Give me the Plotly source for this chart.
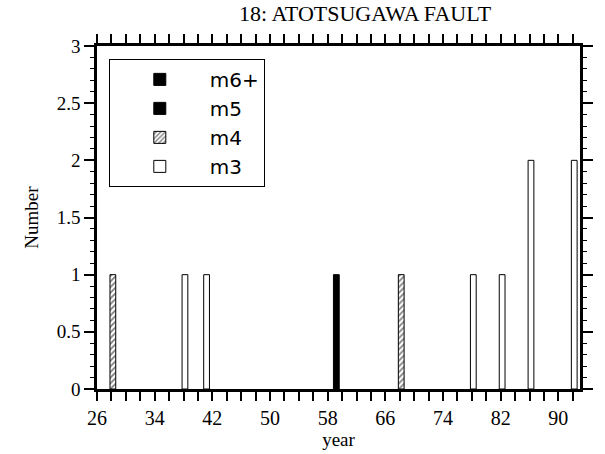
import plotly.graph_objects as go

# Data (year of 19xx, number of events)
years_m3 = [38, 41, 78, 82, 86, 92]
count_m3 = [1, 1, 1, 1, 2, 2]
years_m4 = [28, 68]
count_m4 = [1, 1]
years_m5 = [59]
count_m5 = [1]
years_m6 = [None]
count_m6 = [None]

x_ticks = [26, 34, 42, 50, 58, 66, 74, 82, 90]
y_ticks = [0, 0.5, 1, 1.5, 2, 2.5, 3]
y_tick_text = ["0", "0.5", "1", "1.5", "2", "2.5", "3"]

BAR_W = 0.8
BAR_OFF = -0.2

fig = go.Figure()
fig.add_trace(go.Bar(name="m6+", x=years_m6, y=count_m6, width=BAR_W, offset=BAR_OFF,
                     showlegend=True,
                     marker=dict(color="black", line=dict(color="black", width=1))))
fig.add_trace(go.Bar(name="m5", x=years_m5, y=count_m5, width=BAR_W, offset=BAR_OFF,
                     marker=dict(color="black", line=dict(color="black", width=1))))
fig.add_trace(go.Bar(name="m4", x=years_m4, y=count_m4, width=BAR_W, offset=BAR_OFF,
                     marker=dict(color="white", line=dict(color="black", width=1),
                                 pattern=dict(shape="/", fgcolor="black", bgcolor="white",
                                              size=4, solidity=0.45))))
fig.add_trace(go.Bar(name="m3", x=years_m3, y=count_m3, width=BAR_W, offset=BAR_OFF,
                     marker=dict(color="white", line=dict(color="black", width=1))))

serif = "Liberation Serif, Times New Roman, serif"
PW = 605 - 97 - 17
PH = 454 - 46 - 62

fig.update_layout(
    width=605, height=454,
    margin=dict(l=97, r=17, t=46, b=62),
    plot_bgcolor="white", paper_bgcolor="white",
    barmode="overlay",
    showlegend=True,
    legend=dict(
        x=(109 - 97) / PW, y=1 - (59 - 46) / PH, xanchor="left", yanchor="top",
        bordercolor="black", borderwidth=1, bgcolor="white",
        font=dict(family="DejaVu Sans, sans-serif", size=20, color="black"),
        tracegroupgap=0, itemwidth=90,
    ),
    font=dict(family=serif, color="black"),
    annotations=[dict(
        text="18: ATOTSUGAWA FAULT",
        x=(370 - 97) / PW, y=1 + (46 - 13) / PH, xref="paper", yref="paper",
        xanchor="center", yanchor="middle",
        showarrow=False, font=dict(family=serif, size=22, color="black"),
    )],
)

fig.update_xaxes(
    range=[26, 93], tickmode="array", tickvals=x_ticks, ticktext=[str(v) for v in x_ticks],
    showgrid=False, zeroline=False,
    showline=True, linecolor="black", linewidth=2.5, mirror="ticks",
    ticks="outside", ticklen=9, tickwidth=1.5, tickcolor="black",
    minor=dict(dtick=2, tick0=26, ticks="outside", ticklen=9, tickwidth=1.5,
               tickcolor="black", showgrid=False),
    tickfont=dict(family=serif, size=20, color="black"),
    title=dict(text="year", font=dict(family=serif, size=19, color="black"), standoff=0),
)
fig.update_yaxes(
    range=[0, 3], tickmode="array", tickvals=y_ticks, ticktext=y_tick_text,
    showgrid=False, zeroline=False,
    showline=True, linecolor="black", linewidth=2.5, mirror="ticks",
    ticks="outside", ticklen=10, tickwidth=1.5, tickcolor="black",
    minor=dict(dtick=0.1, ticks="outside", ticklen=4, tickwidth=1,
               tickcolor="black", showgrid=False),
    tickfont=dict(family=serif, size=19, color="black"),
    title=dict(text="Number", font=dict(family=serif, size=19, color="black"), standoff=14),
)

fig.write_html("out.html")
